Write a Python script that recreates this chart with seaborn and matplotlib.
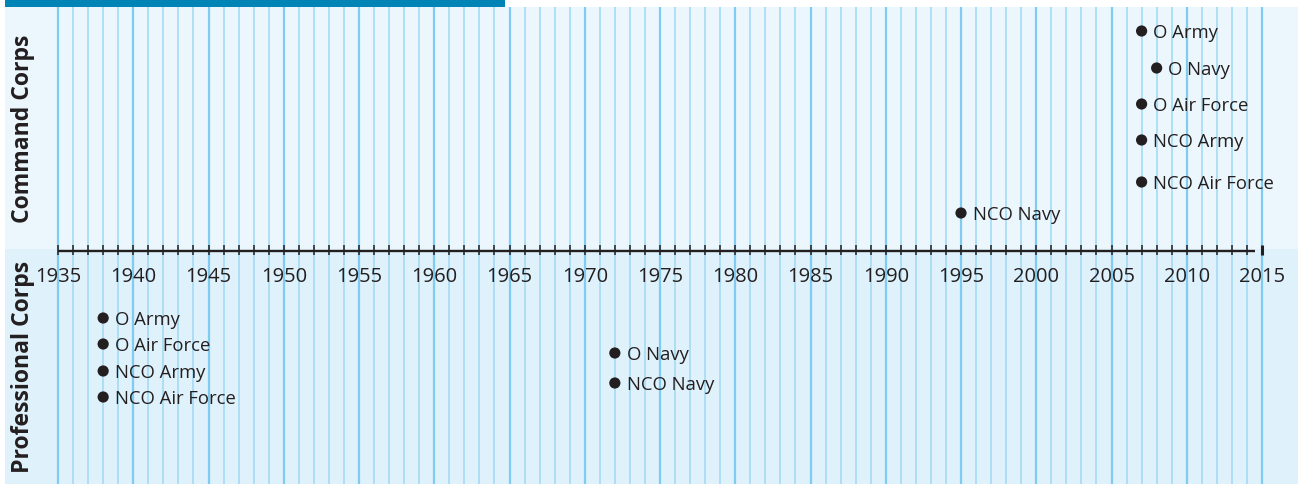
import matplotlib
matplotlib.use("Agg")
import matplotlib.pyplot as plt
import seaborn as sns
import pandas as pd
import numpy as np

# ---------------- data ----------------
corps = ["Command Corps"] * 6 + ["Professional Corps"] * 6
event_labels = ["O Army", "O Navy", "O Air Force", "NCO Army", "NCO Air Force", "NCO Navy",
                "O Army", "O Air Force", "NCO Army", "NCO Air Force", "O Navy", "NCO Navy"]
event_years = [2007, 2008, 2007, 2007, 2007, 1995,
               1938, 1938, 1938, 1938, 1972, 1972]
tick_years = list(range(1935, 2020, 5))
tick_labels = [str(y) for y in tick_years]
section_labels = ["Command Corps", "Professional Corps"]

# ---------------- layout (pixel rows) ----------------
row_px = [32, 69, 105, 141, 183, 214,
          319, 345, 372, 398, 354, 384]

W, H = 1298, 485
AXIS_Y = 252
X1935, X2015 = 58, 1262
ppy = (X2015 - X1935) / (tick_years[-1] - tick_years[0])

def px2yr(px):
    return tick_years[0] + (px - X1935) / ppy

sns.set_theme(style="white")
plt.rcParams['font.family'] = ['Open Sans', 'DejaVu Sans']
TXT = "#231F20"

fig = plt.figure(figsize=(W / 100, H / 100), dpi=100)
ax = fig.add_axes([0, 0, 1, 1])
ax.set_xlim(px2yr(0), px2yr(W))
ax.set_ylim(H, 0)
ax.set_facecolor("white")
for s in ax.spines.values():
    s.set_visible(False)

# section backgrounds
ax.fill_between([px2yr(5), px2yr(W)], 8, 250, color="#EBF7FD", zorder=0, lw=0)
ax.fill_between([px2yr(5), px2yr(W)], 250, H, color="#DFF1FB", zorder=0, lw=0)
# top banner
ax.fill_between([px2yr(5), px2yr(505)], 0, 8, color="#0083B5", zorder=3, lw=0)

# vertical year lines
all_years = np.arange(tick_years[0], tick_years[-1] + 1)
minor = [y for y in all_years if y % 5 != 0]
major = [y for y in all_years if y % 5 == 0]
ax.vlines(minor, 8, H, color="#A3DBF5", lw=1.2, zorder=1)
ax.vlines(major, 8, H, color="#80CCF0", lw=1.6, zorder=1)

# axis line and ticks
ax.hlines(AXIS_Y, tick_years[0], px2yr(1255), color=TXT, lw=1.7, zorder=4)
ax.vlines(all_years[:-1], AXIS_Y - 6, AXIS_Y + 4, color=TXT, lw=1.1, zorder=4)
ax.vlines([tick_years[-1]], AXIS_Y - 6, AXIS_Y + 4, color=TXT, lw=2.2, zorder=4)
for y, lab in zip(tick_years, tick_labels):
    ax.text(y, 277, lab, ha="center", va="center", fontsize=14.5, color=TXT, zorder=5)
ax.set_xticks([]); ax.set_yticks([])

# events
df = pd.DataFrame({"corps": corps, "label": event_labels, "year": event_years, "row": row_px})
sns.scatterplot(data=df, x="year", y="row", color=TXT, s=65, edgecolor="none",
                legend=False, ax=ax, zorder=6)
for _, r in df.iterrows():
    ax.annotate(r["label"], (r["year"], r["row"] + 1), xytext=(8.5, 0), textcoords="offset points",
                ha="left", va="center", fontsize=13.3, color=TXT, zorder=6)
ax.set_xlabel(""); ax.set_ylabel("")

# section labels
ax.text(px2yr(23), 129, section_labels[0], rotation=90, ha="center", va="center",
        fontsize=16.6, fontweight="bold", color=TXT, zorder=6)
ax.text(px2yr(23), 367, section_labels[1], rotation=90, ha="center", va="center",
        fontsize=16.6, fontweight="bold", color=TXT, zorder=6)

fig.savefig("out.png", dpi=100)
